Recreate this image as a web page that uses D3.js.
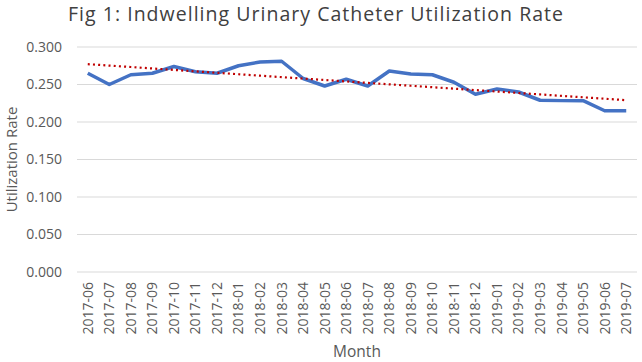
<!DOCTYPE html>
<html>
<head>
<meta charset="utf-8">
<script src="https://cdn.jsdelivr.net/npm/d3@7"></script>
<style>
  body { margin: 0; background: #fff; }
  text { font-family: "Open Sans", "Noto Sans", sans-serif; }
</style>
</head>
<body>
<svg id="chart"></svg>
<script>
const months = ['2017-06', '2017-07', '2017-08', '2017-09', '2017-10', '2017-11', '2017-12',
  '2018-01', '2018-02', '2018-03', '2018-04', '2018-05', '2018-06', '2018-07', '2018-08',
  '2018-09', '2018-10', '2018-11', '2018-12', '2019-01', '2019-02', '2019-03', '2019-04',
  '2019-05', '2019-06', '2019-07']
const rates = [0.265, 0.250, 0.263, 0.265, 0.274, 0.267, 0.265, 0.275, 0.280, 0.281, 0.258,
  0.248, 0.257, 0.248, 0.268, 0.264, 0.263, 0.253, 0.237, 0.244, 0.240, 0.229, 0.2285,
  0.2285, 0.215, 0.215]
const yTicks = [0, 0.05, 0.1, 0.15, 0.2, 0.25, 0.3]

const width = 642
const height = 362
const margin = { top: 47, right: 5, bottom: 90, left: 77 }

const svg = d3.select('#chart').attr('width', width).attr('height', height)

const xScale = d3.scaleBand().domain(months).range([margin.left, width - margin.right])
const yScale = d3.scaleLinear().domain([0, 0.3]).range([height - margin.bottom, margin.top])
const cx = d => xScale(d) + xScale.bandwidth() / 2

// gridlines
svg.append('g')
  .selectAll('line')
  .data(yTicks)
  .join('line')
  .attr('x1', margin.left)
  .attr('x2', width - margin.right)
  .attr('y1', d => yScale(d))
  .attr('y2', d => yScale(d))
  .style('stroke', '#d9d9d9')
  .style('stroke-width', 1)

const yAxis = d3.axisLeft(yScale).tickValues(yTicks).tickFormat(d3.format('.3f')).tickSize(0).tickPadding(15)
svg.append('g')
  .attr('transform', `translate(${margin.left}, 0)`)
  .call(yAxis)
  .call(g => g.select('.domain').remove())
  .call(g => g.selectAll('text').style('font-size', '14px').style('fill', '#595959').style('font-family', '"Open Sans", sans-serif'))

const xAxis = d3.axisBottom(xScale).tickSize(0).tickPadding(0)
svg.append('g')
  .attr('transform', `translate(0, ${height - margin.bottom})`)
  .call(xAxis)
  .call(g => g.select('.domain').remove())
  .call(g => g.selectAll('text')
    .attr('transform', 'rotate(-90)')
    .attr('text-anchor', 'end')
    .attr('x', -10)
    .attr('y', 0)
    .attr('dy', '0.35em')
    .style('font-size', '14px')
    .style('fill', '#595959')
    .style('font-family', '"Open Sans", sans-serif'))

// linear trendline (least squares on the data)
const n = rates.length
const xs = d3.range(n)
const mx = d3.mean(xs)
const my = d3.mean(rates)
const slope = d3.sum(xs, i => (i - mx) * (rates[i] - my)) / d3.sum(xs, i => (i - mx) * (i - mx))
const intercept = my - slope * mx

const line = d3.line()
  .x((d, i) => cx(months[i]))
  .y(d => yScale(d))

svg.append('path')
  .attr('d', line(rates))
  .style('fill', 'none')
  .style('stroke', '#4472c4')
  .style('stroke-width', 3.5)
  .style('stroke-linejoin', 'round')

svg.append('path')
  .attr('d', line(xs.map(i => intercept + slope * i)))
  .style('fill', 'none')
  .style('stroke', '#c00000')
  .style('stroke-width', 2.2)
  .style('stroke-dasharray', '2,3.2')

svg.append('text')
  .attr('x', 68)
  .attr('y', 21)
  .attr('textLength', 495)
  .attr('lengthAdjust', 'spacing')
  .style('font-size', '19.5px')
  .style('fill', '#404040')
  .text('Fig 1: Indwelling Urinary Catheter Utilization Rate')

svg.append('text')
  .attr('transform', `translate(17, ${(margin.top + height - margin.bottom) / 2}) rotate(-90)`)
  .attr('text-anchor', 'middle')
  .style('font-size', '15px')
  .style('fill', '#595959')
  .text('Utilization Rate')

svg.append('text')
  .attr('x', (margin.left + width - margin.right) / 2)
  .attr('y', 357)
  .attr('text-anchor', 'middle')
  .style('font-size', '15.5px')
  .style('fill', '#595959')
  .text('Month')
</script>
</body>
</html>
